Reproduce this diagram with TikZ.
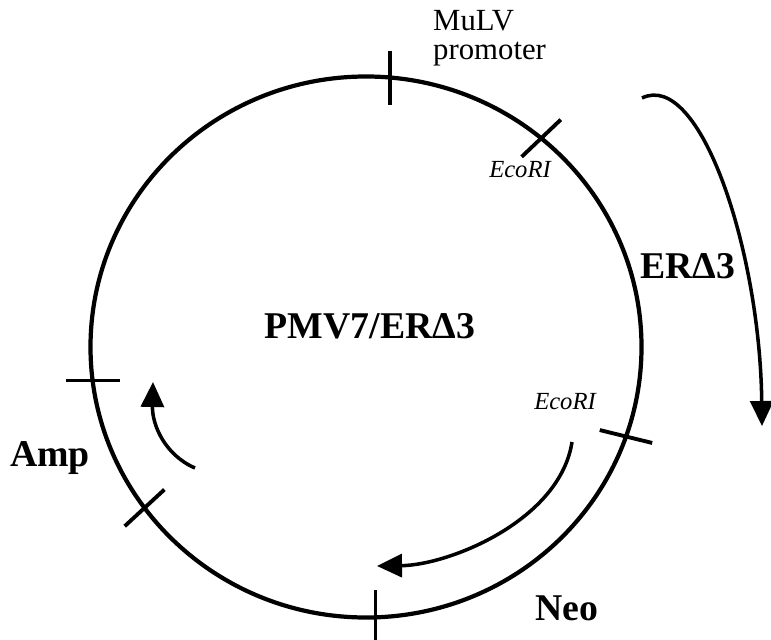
\documentclass[tikz,border=0pt]{standalone}
\usepackage{fontspec}
\setmainfont{Liberation Serif}
\usetikzlibrary{arrows.meta,positioning,shapes.geometric}

\begin{document}
\begin{tikzpicture}[
    plasmid/.style = {shape = ellipse, draw, line width = 2.4pt, inner sep = 0pt, outer sep = 0pt,
        minimum width = 11.02cm, minimum height = 10.82cm},
    site/.style = {line width = 2.2pt},
    gene/.style = {font = \fontsize{21.5}{24}\selectfont\bfseries, anchor = base},
    enzyme/.style = {font = \fontsize{14}{16}\selectfont\itshape, anchor = base},
    marker/.style = {font = \fontsize{17.5}{20}\selectfont, anchor = base west},
    direction/.style = {line width = 2pt, -{Triangle[length = 0.5cm, width = 0.46cm]}}]
    \useasboundingbox (0,0) rectangle (15.42,12.78);
    \node[plasmid] (vector) at (7.32,5.84) {};
    % sites on the vector
    \foreach \ang/\dir in {85.4/90, 50.5/43.5, 187/0, 216.5/42.7, -19/-13.8, -88.5/90}
        \draw[site] (vector.\ang) ++(\dir:0.54) -- ++(\dir:-1.08);
    \node[gene] (name) at (7.40,6.02) {PMV7/ERΔ3};
    \node[gene] (er) at (13.76,7.22) {ERΔ3};
    \node[gene] (neo) at (11.34,0.38) {Neo};
    \node[gene] (amp) at (1.00,3.46) {Amp};
    \node[enzyme] (ecoA) at (10.40,9.22) {EcoRI};
    \node[enzyme] (ecoB) at (11.30,4.60) {EcoRI};
    \node[marker] (mulv) at (8.54,12.16) {MuLV};
    \node[marker, below = 0.58cm of mulv.base west, anchor = base west] (prom) {promoter};
    % transcription directions
    \coordinate (erStart) at (12.84,10.82);
    \coordinate (erEnd) at (15.24,4.26);
    \coordinate (neoStart) at (11.44,3.94);
    \coordinate (neoEnd) at (7.54,1.46);
    \coordinate (ampStart) at (3.90,3.42);
    \coordinate (ampEnd) at (3.06,5.14);
    \draw[direction] (erStart) .. controls (14.00,11.38) and (15.20,7.78) .. (erEnd);
    \draw[direction] (neoStart) .. controls (11.20,2.38) and (9.00,1.48) .. (neoEnd);
    \draw[direction] (ampStart) .. controls (3.30,3.68) and (3.04,4.28) .. (ampEnd);
\end{tikzpicture}
\end{document}
